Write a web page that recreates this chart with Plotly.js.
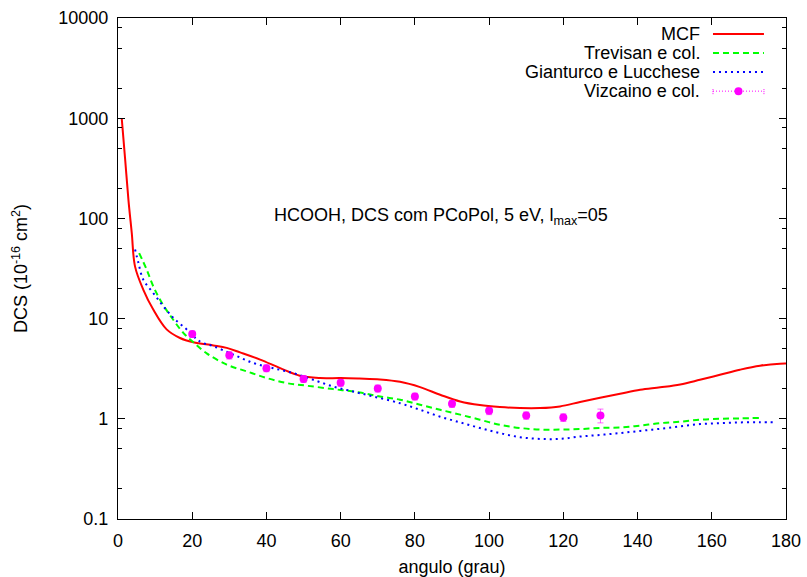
<!DOCTYPE html>
<html>
<head>
<meta charset="utf-8">
<script src="https://cdn.plot.ly/plotly-3.0.1.min.js"></script>
<style>html,body{margin:0;padding:0;background:#fff;}#chart{width:807px;height:577px;}</style>
</head>
<body>
<div id="chart"></div>
<script>
// ---- data ----
const mcfAngle = [1, 1.9, 2.8, 3.7, 4.6, 6.8, 9.5, 13.1, 16.7, 20.3, 25.7, 29.3, 32.9, 38.3, 43.7, 49, 54.4, 60, 65, 70.6, 76, 81.4, 86.8, 92.2, 97.5, 102.9, 108.3, 113.7, 119.1, 124.5, 129.9, 135.3, 140.7, 146.1, 151.5, 156.8, 162.2, 167.6, 173, 178.4, 180];
const mcfDcs = [1000, 400, 155, 72, 33, 19.5, 12.3, 7.8, 6.4, 5.8, 5.4, 5.1, 4.6, 3.9, 3.2, 2.69, 2.55, 2.55, 2.52, 2.47, 2.34, 2.07, 1.74, 1.49, 1.37, 1.31, 1.28, 1.28, 1.33, 1.47, 1.62, 1.78, 1.95, 2.06, 2.2, 2.45, 2.75, 3.09, 3.39, 3.55, 3.56];

const trevAngle = [5.7, 7.7, 9.5, 11.8, 14.5, 17.6, 20.3, 23.9, 29.3, 34.7, 40.1, 45.5, 50.8, 58, 65.2, 70.6, 76, 81.4, 86.8, 92.2, 97.5, 102.9, 108.3, 113.7, 119.1, 124.5, 129.9, 135.3, 140.7, 146.1, 151.5, 156.8, 162.2, 167.6, 173];
const trevDcs = [45, 31, 21, 14.4, 10.2, 7.2, 5.8, 4.5, 3.47, 2.97, 2.55, 2.27, 2.14, 1.98, 1.83, 1.67, 1.55, 1.38, 1.23, 1.10, 0.98, 0.87, 0.81, 0.78, 0.78, 0.79, 0.81, 0.82, 0.855, 0.905, 0.935, 0.98, 1.0, 1.01, 1.02];

const giantAngle = [4.6, 5.5, 6.8, 9.5, 12.2, 14.9, 18.5, 22.1, 25.7, 31.1, 36.5, 41.8, 47.2, 52.6, 58, 63.4, 68.8, 76, 81.4, 86.8, 92.2, 97.5, 102.9, 108.3, 113.7, 119.1, 124.5, 129.9, 135.3, 140.7, 146.1, 151.5, 156.8, 162.2, 167.6, 173, 177.1];
const giantDcs = [49, 36, 24.5, 18, 13.3, 10.2, 7.8, 5.9, 5.3, 4.37, 3.6, 3.2, 2.86, 2.45, 2.1, 1.87, 1.67, 1.43, 1.23, 1.05, 0.92, 0.81, 0.72, 0.656, 0.63, 0.63, 0.665, 0.69, 0.72, 0.757, 0.795, 0.84, 0.885, 0.905, 0.92, 0.925, 0.92];

const vizAngle = [20, 30, 40, 50, 60, 70, 80, 90, 100, 110, 120, 130];
const vizDcs = [7.0, 4.3, 3.2, 2.5, 2.29, 2.01, 1.67, 1.41, 1.20, 1.08, 1.03, 1.08];
const vizErr = [0.5, 0.35, 0.25, 0.2, 0.18, 0.16, 0.13, 0.11, 0.1, 0.09, 0.09, 0.17];

const seriesNames = ["MCF", "Trevisan e col.", "Gianturco e Lucchese", "Vizcaino e col."];
const yTickVals = [0.1, 1, 10, 100, 1000, 10000];
const yTickText = ["0.1", "1", "10", "100", "1000", "10000"];
const yMinorMantissas = [2, 5, 8];
const xTickVals = [0, 20, 40, 60, 80, 100, 120, 140, 160, 180];

// ---- build ----
const FONT = "Liberation Sans, Arial, Helvetica, sans-serif";
const FS = 18;
const colors = ["#ff0000", "#00ff00", "#0000ff", "#ff00ff"];
const dashes = ["solid", "6px,4px", "2px,4px", "1px,2px"];

// all y ticks (major with labels, minor unlabeled) on the main axis
const allYVals = [], allYText = [];
yTickVals.forEach(function (v, i) {
  allYVals.push(v); allYText.push(yTickText[i]);
  if (i < yTickVals.length - 1) {
    yMinorMantissas.forEach(function (m) { allYVals.push(m * v); allYText.push(""); });
  }
});

const traces = [
  {x: mcfAngle, y: mcfDcs, mode: "lines", name: seriesNames[0], line: {color: colors[0], width: 2, shape: "spline"}},
  {x: trevAngle, y: trevDcs, mode: "lines", name: seriesNames[1], line: {color: colors[1], width: 2, dash: dashes[1], shape: "spline"}},
  {x: giantAngle, y: giantDcs, mode: "lines", name: seriesNames[2], line: {color: colors[2], width: 2, dash: dashes[2], shape: "spline"}},
  {x: vizAngle, y: vizDcs, mode: "markers", name: seriesNames[3],
   marker: {color: colors[3], size: 8},
   error_y: {type: "data", array: vizErr, visible: true, color: "rgba(255,0,255,0.6)", thickness: 1, width: 3}},
  // invisible carrier for the overlay axis holding longer major ticks
  {x: mcfAngle, y: mcfDcs, yaxis: "y2", mode: "lines", line: {color: "rgba(0,0,0,0)", width: 1}, hoverinfo: "skip", showlegend: false}
];

// custom gnuplot-style legend (text right, sample on the right)
const legTextX = 0.874, legL = 0.8907, legR = 0.967, legMid = (legL + legR) / 2;
const legY = [0.968, 0.930, 0.892, 0.854];
const annotations = seriesNames.map(function (n, i) {
  return {xref: "paper", yref: "paper", x: legTextX, y: legY[i], text: n, showarrow: false,
          xanchor: "right", yanchor: "middle", font: {family: FONT, size: FS, color: "#000"}};
});
annotations.push({xref: "paper", yref: "paper", x: 0.483, y: 0.603,
  text: "HCOOH, DCS com PCoPol, 5 eV, l<sub>max</sub>=05", showarrow: false,
  xanchor: "center", yanchor: "middle", font: {family: FONT, size: FS, color: "#000"}});

const shapes = [];
for (let i = 0; i < 4; i++) {
  shapes.push({type: "line", xref: "paper", yref: "paper", x0: legL, x1: legR, y0: legY[i], y1: legY[i],
    line: {color: colors[i], width: i === 3 ? 1 : 2, dash: dashes[i]}});
}
[legL, legR].forEach(function (xx) {
  shapes.push({type: "line", xref: "paper", yref: "paper", x0: xx, x1: xx,
    ysizemode: "pixel", yanchor: legY[3], y0: -3, y1: 3, line: {color: colors[3], width: 1, dash: "1px,1px"}});
});
shapes.push({type: "circle", xref: "paper", yref: "paper", xsizemode: "pixel", ysizemode: "pixel",
  xanchor: legMid, yanchor: legY[3], x0: -4, x1: 4, y0: -4, y1: 4,
  fillcolor: colors[3], line: {color: colors[3], width: 0}});

const axisCommon = {
  showgrid: false, zeroline: false, showline: true, linecolor: "#000", linewidth: 1.2,
  mirror: "ticks", ticks: "inside", ticklen: 7, tickwidth: 1, tickcolor: "#000",
  tickfont: {family: FONT, size: FS, color: "#000"}
};

const layout = {
  width: 807, height: 577,
  margin: {l: 118, r: 21, t: 18, b: 58},
  paper_bgcolor: "#fff", plot_bgcolor: "#fff",
  showlegend: false,
  font: {family: FONT, size: FS, color: "#000"},
  xaxis: Object.assign({}, axisCommon, {
    range: [0, 180], tickmode: "array", tickvals: xTickVals, ticklabelstandoff: 5,
    title: {text: "angulo (grau)", font: {family: FONT, size: FS, color: "#000"}, standoff: 10}
  }),
  yaxis: Object.assign({}, axisCommon, {
    type: "log", range: [-1, 4], tickmode: "array", tickvals: allYVals, ticktext: allYText,
    ticklen: 4, ticklabelstandoff: 5,
    title: {text: "DCS (10<sup>-16</sup> cm<sup>2</sup>)", font: {family: FONT, size: FS, color: "#000"}, standoff: 25}
  }),
  yaxis2: {
    type: "log", range: [-1, 4], overlaying: "y", anchor: "x", side: "left",
    showgrid: false, zeroline: false, showline: true, linecolor: "#000", linewidth: 1.2,
    showticklabels: false,
    tickmode: "array", tickvals: yTickVals, ticks: "inside", ticklen: 7, tickwidth: 1, tickcolor: "#000",
    mirror: "ticks"
  },
  annotations: annotations,
  shapes: shapes
};

Plotly.newPlot("chart", traces, layout, {displayModeBar: false, staticPlot: true});
</script>
</body>
</html>
